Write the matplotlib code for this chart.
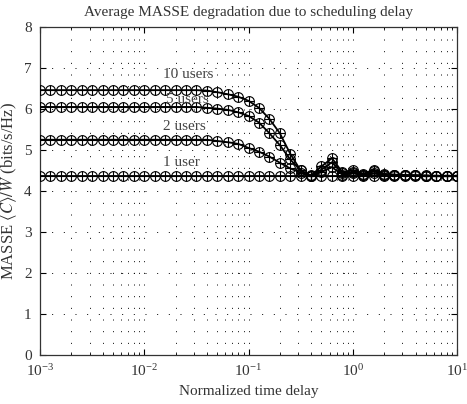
import numpy as np
import matplotlib
matplotlib.use("Agg")
import matplotlib.pyplot as plt

plt.rcParams['font.family'] = ['Liberation Serif', 'DejaVu Serif']
plt.rcParams['mathtext.fontset'] = 'stix'

# Normalized time delay (41 points, 10 per decade)
delay = np.logspace(-3, 1, 41)

users_1 = [4.36] * 41

users_2 = ([5.25] * 17 +
           [5.22, 5.19, 5.15, 5.05, 4.96, 4.84, 4.69, 4.55, 4.45, 4.37,
            4.46, 4.58, 4.40, 4.44, 4.39, 4.43, 4.39, 4.38, 4.38, 4.38,
            4.37, 4.37, 4.37, 4.37])

users_5 = ([6.05] * 16 +
           [6.03, 6.01, 5.98, 5.92, 5.83, 5.67, 5.41, 5.12, 4.77, 4.50,
            4.37, 4.52, 4.70, 4.43, 4.47, 4.40, 4.48, 4.40, 4.39, 4.38,
            4.38, 4.37, 4.37, 4.37, 4.37])

users_10 = ([6.46] * 16 +
            [6.45, 6.41, 6.36, 6.30, 6.20, 6.03, 5.76, 5.41, 4.91, 4.50,
             4.38, 4.60, 4.80, 4.46, 4.51, 4.42, 4.52, 4.42, 4.40, 4.39,
             4.38, 4.38, 4.37, 4.37, 4.37])

series = [users_1, users_2, users_5, users_10]
labels = ["1 user", "2 users", "5 users", "10 users"]
label_pos = [(0.0151, 4.69), (0.0151, 5.57), (0.0163, 6.24), (0.0151, 6.83)]

fig = plt.figure(figsize=(4.67, 4.04), dpi=100)
ax = fig.add_axes([0.0857, 0.1213, 0.8929, 0.8119])

for ys in series:
    ax.plot(delay, ys, color='black', lw=1.3, marker='o', ms=7,
            mfc='none', mec='black', mew=0.8, zorder=3)
    ax.plot(delay, ys, ls='none', marker='+', ms=7, mec='black', mew=0.8,
            zorder=3)

for txt, (x, y) in zip(labels, label_pos):
    ax.text(x, y, txt, fontsize=11, color='#444444', ha='left', va='center',
            zorder=5)

ax.set_xscale('log')
ax.set_xlim(1e-3, 10)
ax.set_ylim(0, 8)
ax.set_yticks(range(0, 9))

dots = (0, (1, 11))
ax.grid(True, which='both', axis='x', color='black', ls=dots, lw=0.7)
ax.grid(True, which='major', axis='y', color='black', ls=dots, lw=0.7)

ax.tick_params(which='both', direction='in', top=True, right=True,
               labelsize=11, labelcolor='#333333')
ax.tick_params(which='major', length=4, pad=6)
ax.tick_params(which='minor', length=2)
for s in ax.spines.values():
    s.set_linewidth(0.9)
    s.set_color('#333333')

ax.set_title("Average MASSE degradation due to scheduling delay",
             fontsize=11, color='#333333', pad=8)
ax.set_xlabel("Normalized time delay", fontsize=11, color='#333333')
ax.set_ylabel(r"MASSE $\langle C\rangle/W$ (bits/s/Hz)", fontsize=12,
              color='#333333', labelpad=4)

fig.savefig("out.png", dpi=100)
